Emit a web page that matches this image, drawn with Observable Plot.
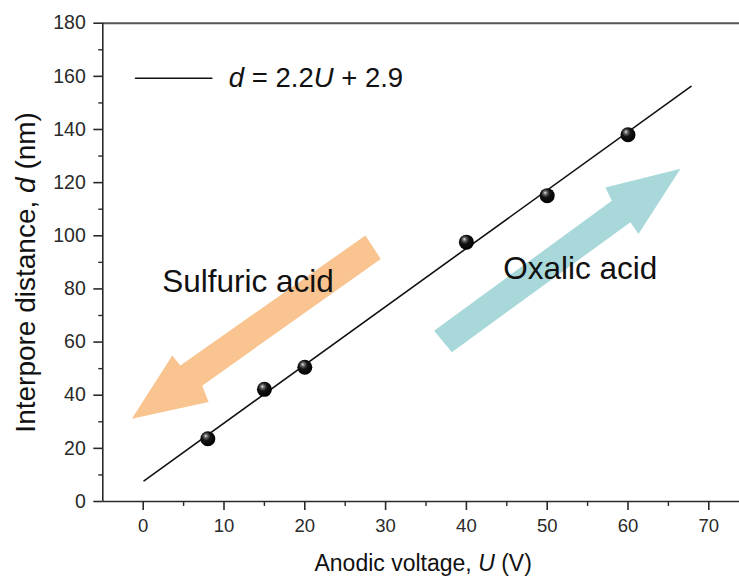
<!DOCTYPE html>
<html>
<head>
<meta charset="utf-8">
<script src="https://cdn.jsdelivr.net/npm/d3@7"></script>
<script src="https://cdn.jsdelivr.net/npm/@observablehq/plot@0.6"></script>
<style>
  html, body { margin: 0; padding: 0; background: #fff; }
</style>
</head>
<body>
<div id="chart"></div>
<script>
// ---- data ----
const voltage = [8, 15, 20, 40, 50, 60];
const distance = [23.6, 42.2, 50.5, 97.6, 115.1, 138.0];
const fitVoltage = [0.1, 67.8];
const fitDistance = [7.8, 156.2];
const xTicks = [0, 10, 20, 30, 40, 50, 60, 70];
const xMinorTicks = [5, 15, 25, 35, 45, 55, 65];
const yTicks = [0, 20, 40, 60, 80, 100, 120, 140, 160, 180];
const yMinorTicks = [10, 30, 50, 70, 90, 110, 130, 150, 170];
const xTitle = "Anodic voltage, U (V)";
const yTitle = "Interpore distance, d (nm)";
const fitLabel = "d = 2.2U + 2.9";
const sulfuricLabel = "Sulfuric acid";
const oxalicLabel = "Oxalic acid";

const points = voltage.map((u, i) => ({u, d: distance[i]}));
const fit = fitVoltage.map((u, i) => ({u, d: fitDistance[i]}));

// block-arrow outlines (annotation shapes, in data units)
const sulfuricArrow = [
  {u: 27.5, d: 100.1}, {u: 29.4, d: 91.3}, {u: 7.3, d: 43.6}, {u: 8.1, d: 37.4},
  {u: -1.4, d: 31.1}, {u: 3.6, d: 54.9}, {u: 4.6, d: 51.2}
];
const oxalicArrow = [
  {u: 38.2, d: 56.2}, {u: 36.0, d: 64.3}, {u: 58.0, d: 113.2}, {u: 57.2, d: 118.2},
  {u: 66.5, d: 125.2}, {u: 61.3, d: 100.7}, {u: 60.3, d: 105.1}
];

const axisColor = "#2a2a2a";

const chart = Plot.plot({
  width: 739,
  height: 579,
  marginLeft: 102.3,
  marginRight: 0,
  marginTop: 22.7,
  marginBottom: 78,
  x: {domain: [-5, 73.8]},
  y: {domain: [0, 180]},
  style: {fontFamily: "'Liberation Sans', Arial, sans-serif", background: "#fff", color: axisColor},
  marks: [
    Plot.line(sulfuricArrow, {x: "u", y: "d", curve: "linear-closed", fill: "#f9c48f", stroke: "none"}),
    Plot.line(oxalicArrow, {x: "u", y: "d", curve: "linear-closed", fill: "#a9d8db", stroke: "none"}),
    Plot.ruleY([0], {stroke: axisColor, strokeWidth: 1.6}),
    Plot.ruleY([180], {stroke: "#555", strokeWidth: 2}),
    Plot.ruleX([-5], {stroke: axisColor, strokeWidth: 1.6}),
    Plot.axisX(xTicks, {tickSize: 9, tickPadding: 8, fontSize: 18.5, label: null, stroke: axisColor, strokeWidth: 1.6, fill: axisColor}),
    Plot.axisX(xMinorTicks, {tickSize: 5, text: null, label: null, stroke: axisColor, strokeWidth: 1.4}),
    Plot.axisY(yTicks, {tickSize: 9, tickPadding: 8, fontSize: 19.5, label: null, stroke: axisColor, strokeWidth: 1.6, fill: axisColor}),
    Plot.axisY(yMinorTicks, {tickSize: 4, text: null, label: null, stroke: axisColor, strokeWidth: 1.4}),
    Plot.line(fit, {x: "u", y: "d", stroke: "#111", strokeWidth: 1.6}),
    Plot.dot(points, {x: "u", y: "d", r: 7.5, fill: "url(#ball)", stroke: "none"}),
    Plot.line([{u: -0.95, d: 159.3}, {u: 8.5, d: 159.3}], {x: "u", y: "d", stroke: "#111", strokeWidth: 1.6}),
    Plot.text([fitLabel], {x: 10.6, y: 159.3, text: d => d, textAnchor: "start", lineAnchor: "middle", fontSize: 27.5, fill: "#111"}),
    Plot.text([sulfuricLabel], {x: 12.97, y: 82.8, text: d => d, textAnchor: "middle", lineAnchor: "middle", fontSize: 31.5, fill: "#111"}),
    Plot.text([oxalicLabel], {x: 54.1, y: 87.6, text: d => d, textAnchor: "middle", lineAnchor: "middle", fontSize: 31.5, fill: "#111"}),
    Plot.text([xTitle], {frameAnchor: "bottom", text: d => d, textAnchor: "middle", lineAnchor: "middle", dy: 62, dx: 2, fontSize: 23, fill: "#111"}),
    Plot.text([yTitle], {frameAnchor: "left", text: d => d, textAnchor: "middle", rotate: -90, lineAnchor: "middle", dx: -77, dy: 10, fontSize: 28, fill: "#111"})
  ]
});

// sphere-like gradient for the markers
const ns = "http://www.w3.org/2000/svg";
const defs = document.createElementNS(ns, "defs");
defs.innerHTML = `<radialGradient id="ball" cx="0.42" cy="0.38" r="0.62" fx="0.36" fy="0.3">
  <stop offset="0" stop-color="#f4f4f4"/>
  <stop offset="0.16" stop-color="#777"/>
  <stop offset="0.45" stop-color="#151515"/>
  <stop offset="1" stop-color="#000"/>
</radialGradient>`;
chart.insertBefore(defs, chart.firstChild);

// italic variable letters (d, U) in titles and the fit label
const italicTargets = new Set([xTitle, yTitle, fitLabel]);
chart.querySelectorAll("text").forEach(t => {
  if (italicTargets.has(t.textContent)) {
    t.innerHTML = t.textContent.replace(/(?<![A-Za-z])([dU])(?![A-Za-z])/g, '<tspan font-style="italic">$1</tspan>');
  }
});

document.getElementById("chart").appendChild(chart);
</script>
</body>
</html>
